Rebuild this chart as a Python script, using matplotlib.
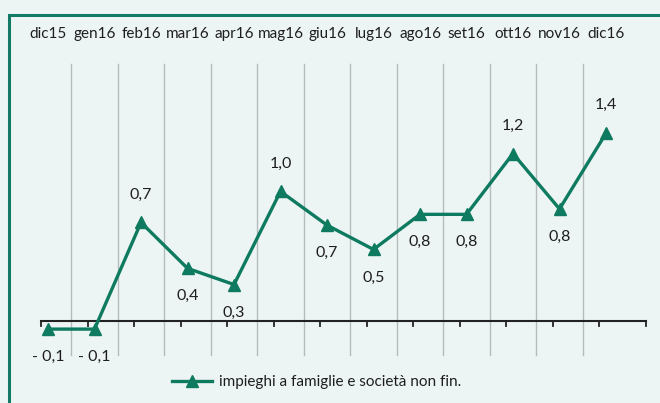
import matplotlib
matplotlib.use("Agg")
import matplotlib.pyplot as plt
from matplotlib.patches import Rectangle

# ── Data ──────────────────────────────────────────────────
months = ["dic15", "gen16", "feb16", "mar16", "apr16", "mag16", "giu16",
          "lug16", "ago16", "set16", "ott16", "nov16", "dic16"]
values = [-0.06, -0.06, 0.73, 0.39, 0.27, 0.96, 0.71,
          0.53, 0.79, 0.79, 1.24, 0.83, 1.39]
# label above (+1) or below (-1) the marker
label_side = [-1, -1, 1, -1, -1, 1, -1, -1, -1, -1, 1, -1, 1]
series_name = "impieghi a famiglie e società non fin."

# ── Style ─────────────────────────────────────────────────
BG     = "#EDF5F4"
GREEN  = "#0E7A5F"
FRAME  = "#127A64"
GRID   = "#B4BCBC"
TEXT   = "#1E1E1E"
plt.rcParams["font.family"] = ["Lato", "DejaVu Sans"]

W, H = 660, 403
fig = plt.figure(figsize=(W / 100, H / 100), dpi=100)
fig.patch.set_facecolor(BG)

# full-figure axes; 46.5 px per month, 135 px per unit, zero at y=321 px
ax = fig.add_axes([0, 0, 1, 1])
ax.set_facecolor(BG)
x0_px, dx_px, y0_px, dy_px = 48, 46.5, 321, 135
ax.set_xlim(-x0_px / dx_px, (W - x0_px) / dx_px)
ax.set_ylim((y0_px - H) / dy_px, y0_px / dy_px)
for s in ax.spines.values():
    s.set_visible(False)
ax.set_xticks([])
ax.set_yticks([])

def ypx(p):
    return (y0_px - p) / dy_px

# outer green frame (right/bottom edges are cut off in the original)
fig.patches.append(Rectangle((8.5 / W, -0.1), 1.2, 1 - 15 / H + 0.1,
                             transform=fig.transFigure, fill=False,
                             edgecolor=FRAME, linewidth=2.2))

n = len(months)
# vertical separators
for i in range(n - 1):
    ax.plot([i + 0.5, i + 0.5], [ypx(64), ypx(355)], color=GRID,
            linewidth=1.0, zorder=1)

# month labels on top
for i, m in enumerate(months):
    ax.text(i, ypx(34), m, ha="center", va="center", fontsize=11,
            color=TEXT)

# zero axis with downward ticks
ax.plot([-0.15, n - 0.15], [0, 0], color="#222222", linewidth=1.5, zorder=2)
for i in range(n + 1):
    ax.plot([i - 0.15, i - 0.15], [0, ypx(326)], color="#222222",
            linewidth=1.3, zorder=2)

# series
xs = list(range(n))
line, = ax.plot(xs, values, color=GREEN, linewidth=2.4, marker="^",
                markersize=8, zorder=3, label=series_name)

for x, v, side in zip(xs, values, label_side):
    txt = f"{abs(v):.1f}".replace(".", ",")
    if v < 0:
        txt = "- " + txt
    off = 28 if side > 0 else -28
    ax.text(x, v + off / dy_px, txt, ha="center", va="center",
            fontsize=11.5, color=TEXT)

ax.legend(handles=[line], loc="center left",
          bbox_to_anchor=(172 / W, 1 - 382 / H), frameon=False,
          fontsize=11, handlelength=2.6, handletextpad=0.5,
          borderpad=0, borderaxespad=0, labelcolor=TEXT)

fig.savefig("out.png", dpi=100, facecolor=BG)
